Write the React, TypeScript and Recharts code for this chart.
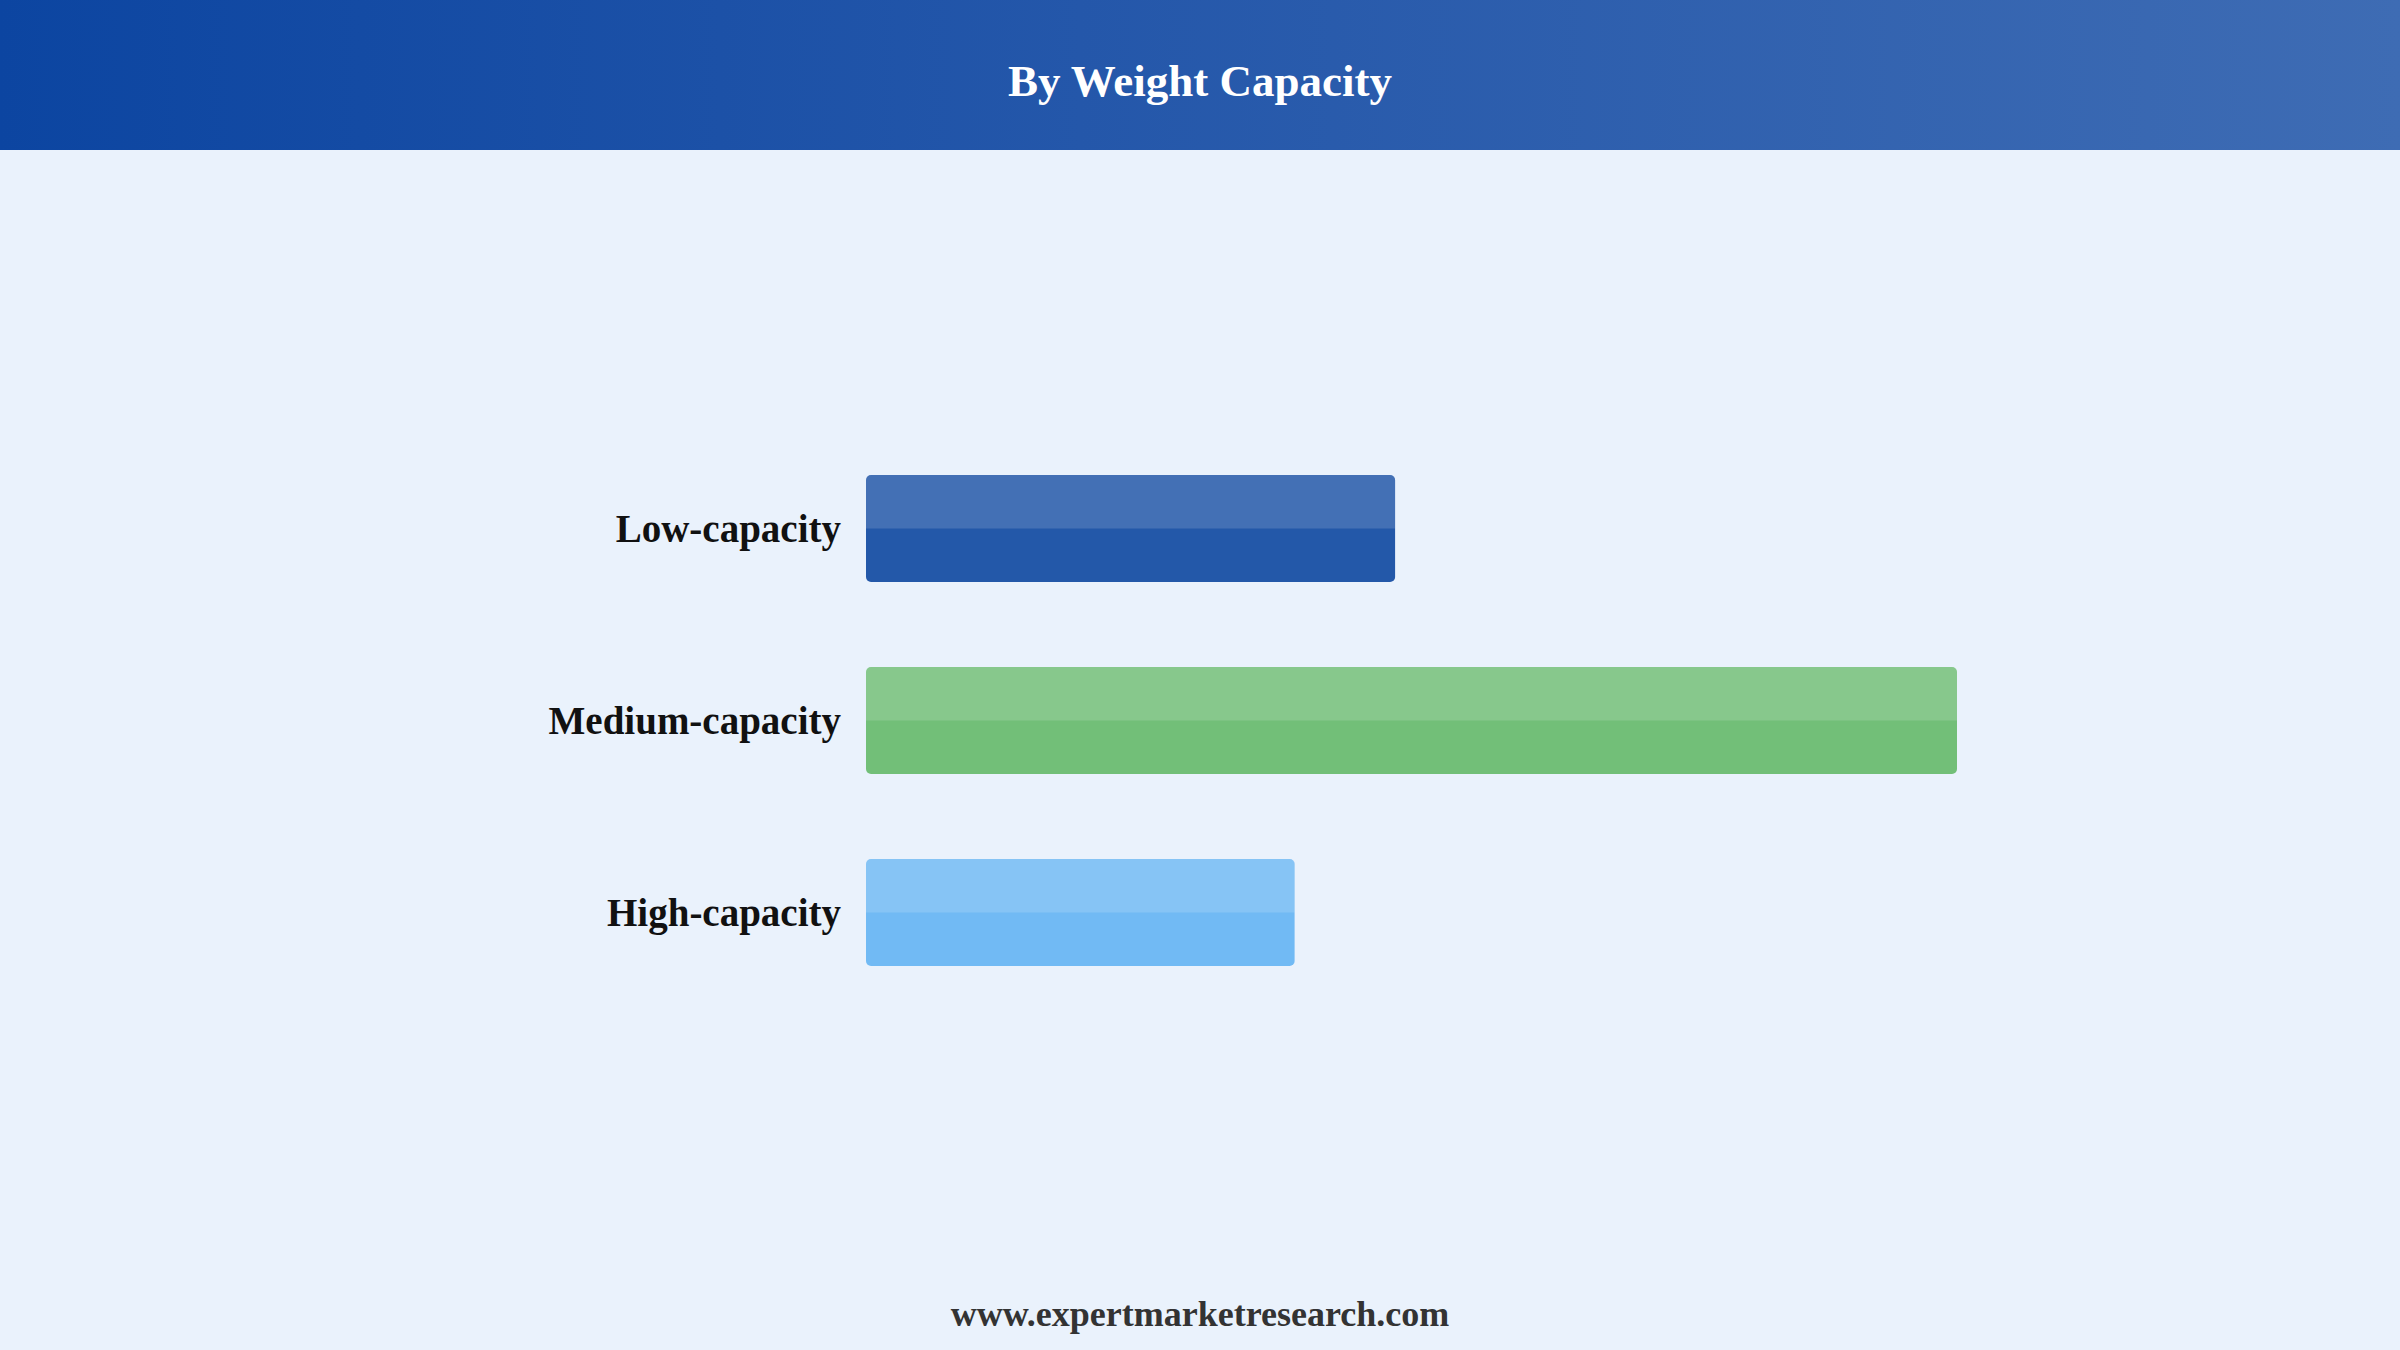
import React from 'react';
import { BarChart, Bar, XAxis, YAxis, Cell } from 'recharts';

// categories and shares
const categories = ['Low-capacity', 'Medium-capacity', 'High-capacity'];
const shares = [25.8, 53.2, 20.9];
const barColors = ['#2358A9', '#72BF78', '#71BAF4'];

const data = categories.map((name, i) => ({ name, value: shares[i] }));

const FONT = "'Liberation Serif', 'Times New Roman', serif";

const GlossyBar = (props: any) => {
  const { x, y, width, height, fill } = props;
  if (!width || width <= 0) return null;
  const r = 5;
  const half = height / 2;
  return (
    <g>
      <rect x={x} y={y} width={width} height={height} rx={r} ry={r} fill={fill} />
      <path
        d={`M${x},${y + half} L${x},${y + r} Q${x},${y} ${x + r},${y} L${x + width - r},${y} Q${x + width},${y} ${x + width},${y + r} L${x + width},${y + half} Z`}
        fill="#ffffff"
        fillOpacity={0.15}
      />
    </g>
  );
};

const App: React.FC = () => {
  return (
    <div
      style={{
        position: 'fixed',
        left: 0,
        top: 0,
        width: 2400,
        height: 1350,
        background: '#EAF2FC',
        overflow: 'hidden',
        fontFamily: FONT,
      }}
    >
      <div
        style={{
          position: 'absolute',
          left: 0,
          top: 0,
          width: 2400,
          height: 150,
          background: 'linear-gradient(90deg, #0C45A1 0%, #2457AA 45%, #3E6CB4 100%)',
        }}
      />
      <div
        style={{
          position: 'absolute',
          left: 0,
          top: 59,
          width: 2400,
          textAlign: 'center',
          color: '#ffffff',
          fontSize: 45,
          fontWeight: 'bold',
          lineHeight: 1,
        }}
      >
        By Weight Capacity
      </div>

      <div style={{ position: 'absolute', left: 0, top: 0 }}>
        <BarChart
          width={2400}
          height={1350}
          layout="vertical"
          data={data}
          margin={{ top: 432, right: 443, bottom: 342, left: 0 }}
          barCategoryGap={85}
        >
          <XAxis type="number" domain={[0, 'dataMax']} hide />
          <YAxis
            type="category"
            dataKey="name"
            width={866}
            axisLine={false}
            tickLine={false}
            tickSize={0}
            tickMargin={25}
            tick={{ fill: '#111111', fontSize: 39, fontWeight: 'bold', fontFamily: FONT }}
          />
          <Bar dataKey="value" barSize={107} shape={<GlossyBar />} isAnimationActive={false}>
            {data.map((d, i) => (
              <Cell key={d.name} fill={barColors[i]} />
            ))}
          </Bar>
        </BarChart>
      </div>

      <div
        style={{
          position: 'absolute',
          left: 0,
          top: 1296,
          width: 2400,
          textAlign: 'center',
          color: '#333333',
          fontSize: 36,
          fontWeight: 'bold',
          lineHeight: 1,
        }}
      >
        www.expertmarketresearch.com
      </div>
    </div>
  );
};

export default App;
